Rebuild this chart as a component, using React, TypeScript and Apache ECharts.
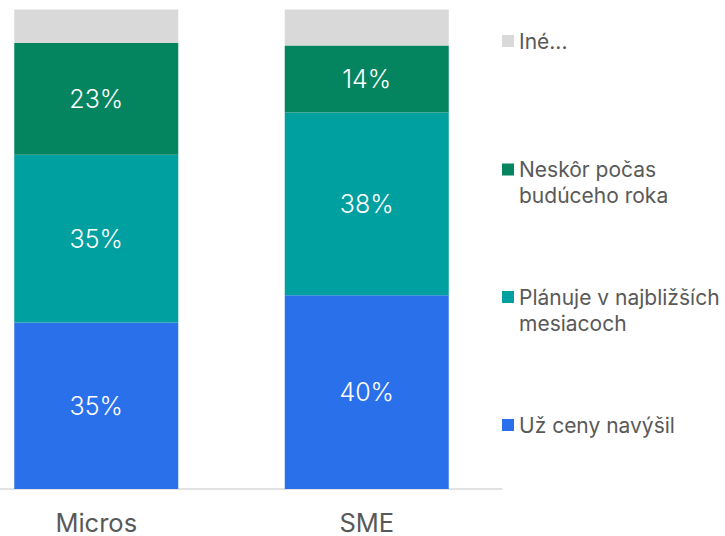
import React, { useEffect, useRef } from "react";
import * as echarts from "echarts";

const categories = ["Micros", "SME"];
const seriesNames = ["Už ceny navýšil", "Plánuje v najbližších mesiacoch", "Neskôr počas budúceho roka", "Iné..."];
const legendFirstLines = ["Už ceny navýšil", "Plánuje v najbližších", "Neskôr počas", "Iné..."];
const legendSecondLines = ["", "mesiacoch", "budúceho roka", ""];
const uzNavysil = [34.7, 40.4];
const planuje = [35.0, 38.1];
const neskor = [23.3, 14.0];
const ine = [7.0, 7.5];
const colors = ["#2a70ea", "#00a0a0", "#058460", "#d9d9d9"];

const FONT = "Inter, 'Noto Sans', sans-serif";

export default function App() {
  const ref = useRef<HTMLDivElement>(null);
  useEffect(() => {
    if (!ref.current) return;
    const chart = echarts.init(ref.current, null, { renderer: "svg" });
    const values = [uzNavysil, planuje, neskor, ine];
    const series = values.map((v, i) => ({
      name: seriesNames[i],
      type: "bar",
      stack: "total",
      barWidth: 164,
      data: v,
      itemStyle: { color: colors[i] },
      label: {
        show: i < 3,
        position: "inside",
        color: "#ffffff",
        fontSize: 25,
        fontFamily: FONT,
        fontWeight: 300,
        formatter: (p: any) => Math.round(p.value) + "%",
      },
    }));
    const markerCenters = [425, 297, 169.5, 41];
    const legends = seriesNames.map((n, i) => ({
      data: [n],
      orient: "vertical",
      left: 502,
      top: markerCenters[i] - 13,
      padding: 0,
      itemWidth: 12,
      itemHeight: 12,
      icon: "rect",
      selectedMode: false,
      formatter: () => legendFirstLines[i],
      textStyle: {
        color: "#595959",
        fontSize: 21,
        fontFamily: FONT,
        lineHeight: 26,
      },
    }));
    const graphics = legendSecondLines
      .map((t, i) => ({ t, i }))
      .filter((d) => d.t)
      .map((d) => ({
        type: "text",
        x: 519,
        y: markerCenters[d.i] + 26,
        style: {
          text: d.t,
          fill: "#595959",
          fontSize: 21,
          fontFamily: FONT,
          textVerticalAlign: "middle",
          verticalAlign: "middle",
        },
      }));
    chart.setOption({
      animation: false,
      legend: legends,
      graphic: graphics,
      grid: { left: -39, right: 223, top: 9.5, bottom: 47, outerBoundsMode: "none", containLabel: false },
      xAxis: {
        type: "category",
        data: categories,
        axisLine: { lineStyle: { color: "#d9d9d9", width: 1.5 } },
        axisTick: { show: false },
        axisLabel: { color: "#595959", fontSize: 25.5, lineHeight: 22, fontFamily: FONT, margin: 22 },
      },
      yAxis: { type: "value", min: 0, max: 100, show: false, splitLine: { show: false } },
      series,
    });
    return () => chart.dispose();
  }, []);
  return <div ref={ref} style={{ width: 725, height: 536, position: "absolute", left: 0, top: 0 }} />;
}
